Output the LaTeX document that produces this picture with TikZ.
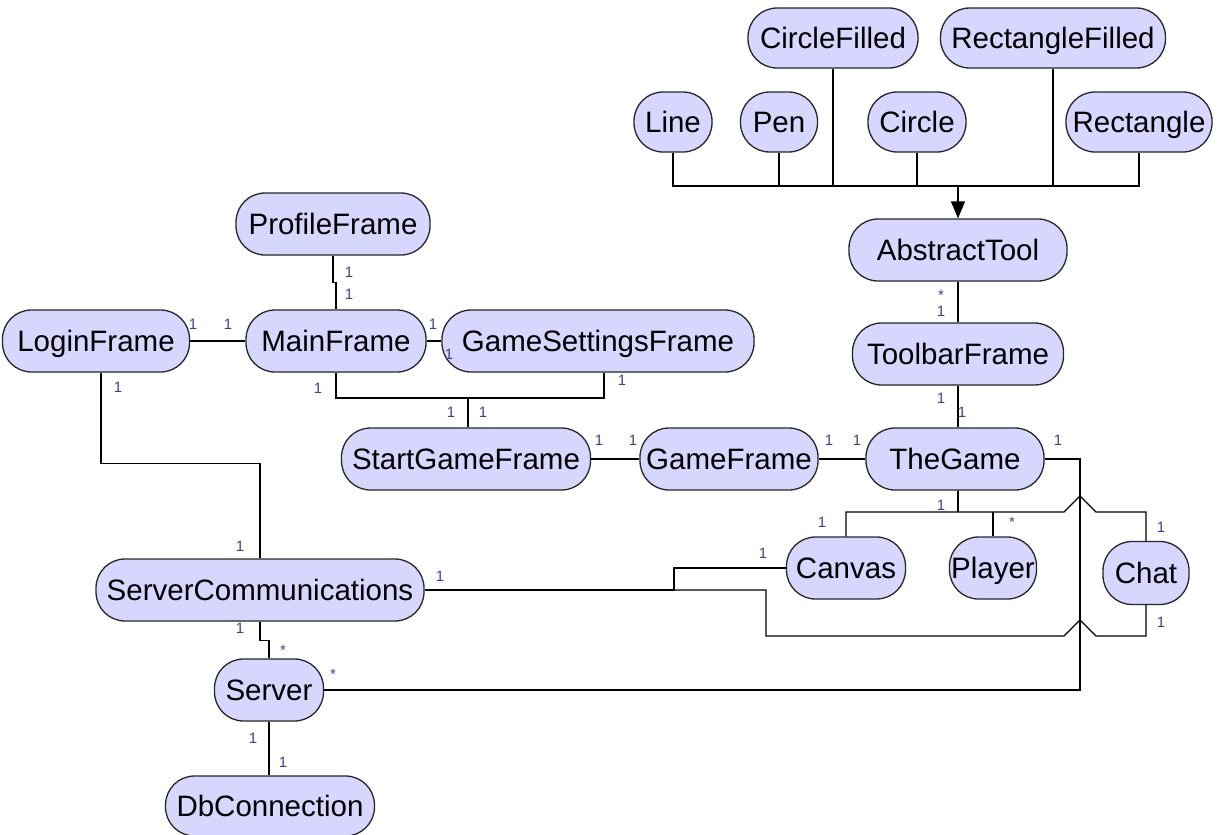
\documentclass[tikz,border=0pt]{standalone}
\usepackage{fontspec}
\setmainfont{Liberation Sans}
\usetikzlibrary{arrows.meta}
\definecolor{classfill}{RGB}{214,214,255}
\definecolor{multcol}{RGB}{70,60,140}
\begin{document}
\begin{tikzpicture}[x=1pt,y=-1pt,
  cls/.style={draw=black!85, line width=1.3pt, fill=classfill, rounded corners=29pt,
    minimum height=62pt, inner sep=0pt, text height=21pt, text depth=0pt,
    font=\fontsize{29.5}{32}\selectfont},
  mult/.style={text=multcol, inner sep=0pt, font=\fontsize{15}{16}\selectfont},
  assoc/.style={draw=black, line width=1.3pt}]
\useasboundingbox (0,0) rectangle (1226,835);

% tool classes
\node[cls, minimum width=170pt, minimum height=60pt] (CircleFilled) at (833,38) {CircleFilled};
\node[cls, minimum width=225pt, minimum height=60pt] (RectangleFilled) at (1053,38) {RectangleFilled};
\node[cls, minimum width=78pt, minimum height=60pt] (Line) at (673,122) {Line};
\node[cls, minimum width=77pt, minimum height=60pt] (Pen) at (779,122) {Pen};
\node[cls, minimum width=98pt, minimum height=60pt] (Circle) at (917,122) {Circle};
\node[cls, minimum width=146pt, minimum height=60pt] (Rectangle) at (1139,122) {Rectangle};
\node[cls, minimum width=218pt] (AbstractTool) at (958,250) {AbstractTool};
\node[cls, minimum width=211pt] (ToolbarFrame) at (958,354) {ToolbarFrame};

% frames
\node[cls, minimum width=194pt] (ProfileFrame) at (333,224) {ProfileFrame};
\node[cls, minimum width=187pt] (LoginFrame) at (96,341) {LoginFrame};
\node[cls, minimum width=180pt] (MainFrame) at (336,341) {MainFrame};
\node[cls, minimum width=312pt] (GameSettingsFrame) at (598,341) {GameSettingsFrame};
\node[cls, minimum width=249pt] (StartGameFrame) at (466,459) {StartGameFrame};
\node[cls, minimum width=178pt] (GameFrame) at (729,459) {GameFrame};
\node[cls, minimum width=178pt] (TheGame) at (955,459) {TheGame};

% game parts
\node[cls, minimum width=119pt] (Canvas) at (846,568) {Canvas};
\node[cls, minimum width=87pt] (Player) at (993,568) {Player};
\node[cls, minimum width=86pt, minimum height=63pt] (Chat) at (1146,573) {Chat};

% server side
\node[cls, minimum width=328pt] (ServerCommunications) at (260,590) {ServerCommunications};
\node[cls, minimum width=109pt] (Server) at (269,690) {Server};
\node[cls, minimum width=209pt, minimum height=60pt] (DbConnection) at (270,806) {DbConnection};

% helper points
\coordinate (bus) at (958,186);
\coordinate (sj) at (468,398);
\coordinate (tb) at (958,512);
\coordinate (vr) at (1080,580);
\coordinate (cj) at (674,590);

% generalization into AbstractTool
\draw[assoc] (Line.south) -- (Line.south |- bus) -- (Rectangle.south |- bus) -- (Rectangle.south);
\draw[assoc] (Pen.south) -- (Pen.south |- bus);
\draw[assoc] (CircleFilled.south) -- (CircleFilled.south |- bus);
\draw[assoc] (Circle.south) -- (Circle.south |- bus);
\draw[assoc] (RectangleFilled.south) -- (RectangleFilled.south |- bus);
\draw[assoc, -{Triangle[width=14pt,length=17pt]}] (bus) -- (AbstractTool.north);

% associations
\draw[assoc] (AbstractTool.south) -- (ToolbarFrame.north);
\draw[assoc] (ToolbarFrame.south) -- (ToolbarFrame.south |- TheGame.north);
\draw[assoc] (ProfileFrame.south) -- ++(0,27) -| (MainFrame.north);
\draw[assoc] (LoginFrame.east) -- (MainFrame.west);
\draw[assoc] (MainFrame.east) -- (GameSettingsFrame.west);
\draw[assoc] (MainFrame.south) |- (sj) -| ([xshift=6pt]GameSettingsFrame.south);
\draw[assoc] (sj) -- (sj |- StartGameFrame.north);
\draw[assoc] (StartGameFrame.east) -- (GameFrame.west);
\draw[assoc] (GameFrame.east) -- (TheGame.west);
\draw[assoc] (TheGame.east) -| (vr) |- (Server.east);
\draw[assoc] (tb |- TheGame.south) -- (tb);
\draw[assoc] (Canvas.north) |- (tb) -- (1064,512) -- (1080,496) -- (1096,512) -| (Chat.north);
\draw[assoc] (Player.north) -- (Player.north |- tb);
\draw[assoc] (ServerCommunications.east) -- (cj) |- (Canvas.west);
\draw[assoc] (cj) -- (766,590) |- (1064,636) -- (1080,620) -- (1096,636) -| (Chat.south);
\draw[assoc] ([xshift=5pt]LoginFrame.south) -- ++(0,91) -| (ServerCommunications.north);
\draw[assoc] (ServerCommunications.south) -- ++(0,19) -| (Server.north);
\draw[assoc] (Server.south) -- (Server.south |- DbConnection.north);

% multiplicities
\node[mult] (m1) at (941,295) {*};
\node[mult] (m2) at (941,311) {1};
\node[mult] (m3) at (941,398) {1};
\node[mult] (m4) at (962,412) {1};
\node[mult] (m5) at (349,272) {1};
\node[mult] (m6) at (349,294) {1};
\node[mult] (m7) at (193,324) {1};
\node[mult] (m8) at (228,324) {1};
\node[mult] (m9) at (433,324) {1};
\node[mult] (m10) at (449,354) {1};
\node[mult] (m11) at (318,388) {1};
\node[mult] (m12) at (622,380) {1};
\node[mult] (m13) at (451,412) {1};
\node[mult] (m14) at (483,412) {1};
\node[mult] (m15) at (599,440) {1};
\node[mult] (m16) at (633,440) {1};
\node[mult] (m17) at (829,440) {1};
\node[mult] (m18) at (857,440) {1};
\node[mult] (m19) at (1058,440) {1};
\node[mult] (m20) at (941,505) {1};
\node[mult] (m21) at (822,522) {1};
\node[mult] (m22) at (1012,522) {*};
\node[mult] (m23) at (1161,527) {1};
\node[mult] (m24) at (1161,622) {1};
\node[mult] (m25) at (763,553) {1};
\node[mult] (m26) at (440,576) {1};
\node[mult] (m27) at (118,387) {1};
\node[mult] (m28) at (240,546) {1};
\node[mult] (m29) at (240,628) {1};
\node[mult] (m30) at (283,650) {*};
\node[mult] (m31) at (333,674) {*};
\node[mult] (m32) at (253,738) {1};
\node[mult] (m33) at (283,762) {1};
\end{tikzpicture}
\end{document}
